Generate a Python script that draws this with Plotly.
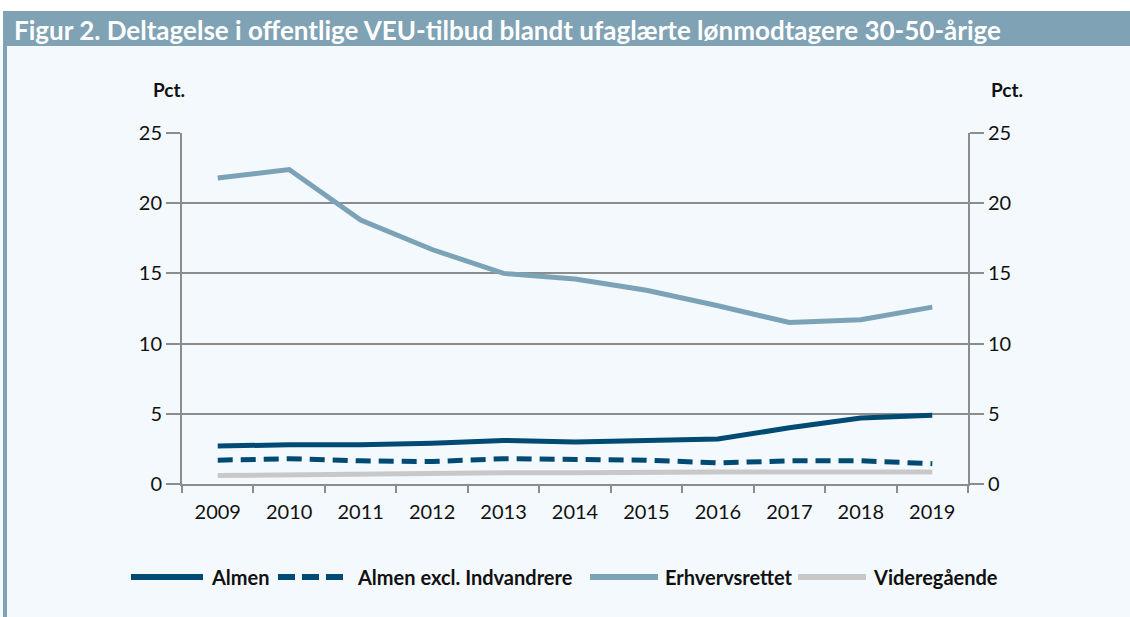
import plotly.graph_objects as go

# ── Data ─────────────────────────────────────────────────────────────────────
years = ["2009", "2010", "2011", "2012", "2013", "2014", "2015", "2016", "2017", "2018", "2019"]
almen = [2.7, 2.8, 2.8, 2.9, 3.1, 3.0, 3.1, 3.2, 4.0, 4.7, 4.9]
almen_excl = [1.7, 1.8, 1.65, 1.6, 1.8, 1.75, 1.7, 1.5, 1.65, 1.65, 1.45]
erhvervsrettet = [21.8, 22.4, 18.8, 16.7, 15.0, 14.6, 13.8, 12.7, 11.5, 11.7, 12.6]
videregaaende = [0.6, 0.65, 0.7, 0.8, 0.8, 0.8, 0.85, 0.85, 0.85, 0.85, 0.85]

y_ticks = [0, 5, 10, 15, 20, 25]

TITLE = "Figur 2. Deltagelse i offentlige VEU-tilbud blandt ufaglærte lønmodtagere 30-50-årige"

NAVY = "#004a73"
STEEL = "#7ba2b7"
LIGHT_GREY = "#c8c8c8"
GRID = "#8c8c8c"
PANEL = "#f4f9fd"
BANNER = "#7fa2b5"
FONT = "Lato"
DASH = "15px,8px"

# plot-area geometry in px (used to place banner / panel / legend in paper coords)
W, H = 1130, 617
L, R, T, B = 182, 968, 133, 484
pw, ph = R - L, B - T


def px_x(x):
    return (x - L) / pw


def px_y(y):
    return (B - y) / ph


series = [
    ("Almen", almen, NAVY, "solid"),
    ("Almen excl. Indvandrere", almen_excl, NAVY, DASH),
    ("Erhvervsrettet", erhvervsrettet, STEEL, "solid"),
    ("Videregående", videregaaende, LIGHT_GREY, "solid"),
]

fig = go.Figure()
for name, vals, color, dash in series:
    fig.add_trace(go.Scatter(
        x=years, y=vals, name=name, mode="lines",
        line=dict(color=color, width=5, dash=dash),
        showlegend=False,
    ))

# dummy trace so the right axis is drawn
fig.add_trace(go.Scatter(x=[years[0]], y=[None], yaxis="y2",
                         showlegend=False, hoverinfo="skip"))

tick_font = dict(family=FONT, size=20, color="#111")
axis_common = dict(
    range=[0, 25], tickvals=y_ticks, ticks="outside", ticklen=14,
    tickcolor=GRID, tickwidth=2, showline=True, linecolor=GRID, linewidth=2,
    tickfont=tick_font, zeroline=False,
)

shapes = [
    # light panel behind everything
    dict(type="rect", xref="paper", yref="paper", layer="below",
         x0=px_x(0), x1=px_x(W), y0=px_y(H), y1=px_y(46),
         fillcolor=PANEL, line_width=0),
    # left border
    dict(type="rect", xref="paper", yref="paper", layer="below",
         x0=px_x(3), x1=px_x(7), y0=px_y(H), y1=px_y(46),
         fillcolor=BANNER, line_width=0),
    # title banner
    dict(type="rect", xref="paper", yref="paper", layer="below",
         x0=px_x(3), x1=px_x(W), y0=px_y(46), y1=px_y(11),
         fillcolor=BANNER, line_width=0),
]

annotations = [
    dict(text=TITLE, xref="paper", yref="paper", x=px_x(12), y=px_y(30),
         xanchor="left", yanchor="middle", showarrow=False,
         font=dict(family=FONT, size=26, color="white", weight="bold")),
    dict(text="Pct.", xref="paper", yref="paper", x=px_x(169), y=px_y(90),
         xanchor="center", yanchor="middle", showarrow=False,
         font=dict(family=FONT, size=19, color="#111", weight="bold")),
    dict(text="Pct.", xref="paper", yref="paper", x=px_x(1007), y=px_y(90),
         xanchor="center", yanchor="middle", showarrow=False,
         font=dict(family=FONT, size=19, color="#111", weight="bold")),
]

# hand-built legend (long line samples like the original)
legend_y = 577
legend_slots = [(131, 203, 209), (278, 343, 355), (590, 658, 663), (798, 866, 871)]
for (name, _, color, dash), (lx0, lx1, tx) in zip(series, legend_slots):
    shapes.append(dict(type="line", xref="paper", yref="paper",
                       x0=px_x(lx0), x1=px_x(lx1), y0=px_y(legend_y), y1=px_y(legend_y),
                       line=dict(color=color, width=6,
                                 dash="17px,7px" if dash != "solid" else "solid")))
    annotations.append(dict(text=name, xref="paper", yref="paper",
                            x=px_x(tx), y=px_y(legend_y), xanchor="left", yanchor="middle",
                            showarrow=False,
                            font=dict(family=FONT, size=20, color="#111", weight="bold")))

fig.update_layout(
    width=W, height=H,
    margin=dict(l=L, r=W - R, t=T, b=H - B),
    paper_bgcolor="white",
    plot_bgcolor="rgba(0,0,0,0)",
    xaxis=dict(
        type="category", tickson="boundaries", ticks="outside", ticklen=7,
        tickcolor=GRID, tickwidth=2, showline=True, linecolor=GRID, linewidth=2,
        showgrid=False, tickfont=tick_font, range=[-0.5, 10.5],
        ticklabelstandoff=9,
    ),
    yaxis=dict(**axis_common, showgrid=True, gridcolor=GRID, gridwidth=2),
    yaxis2=dict(**axis_common, overlaying="y", side="right", showgrid=False),
    showlegend=False,
    shapes=shapes,
    annotations=annotations,
)

fig.write_html("out.html", config={"displayModeBar": False},
               post_script="document.body.style.margin='0';")
